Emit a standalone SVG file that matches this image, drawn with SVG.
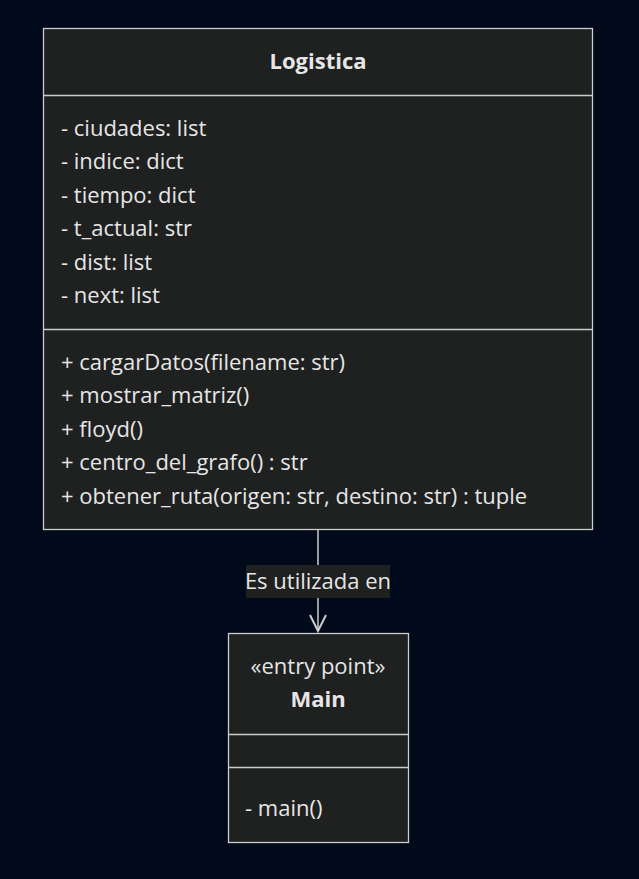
<svg xmlns="http://www.w3.org/2000/svg" width="639" height="879" viewBox="0 0 639 879">
<defs>
<style>
.bg{fill:#000a1a}
.box{fill:#1f2020;stroke:#cccccc;stroke-width:1.3}
.div{stroke:#cccccc;stroke-width:1.3}
text{font-family:"Open Sans","Liberation Sans",Arial,sans-serif;font-size:22px;fill:#e6e6e6}
.t{font-weight:bold;text-anchor:middle}
.c{text-anchor:middle}
.edge{stroke:#cccccc;stroke-width:1.5;fill:none}
.lbl{fill:#1f2020}
</style>
<marker id="arr" viewBox="0 0 20 20" refX="18" refY="10" markerWidth="20" markerHeight="20" markerUnits="userSpaceOnUse" orient="auto">
<path d="M2,2 L18,10 L2,18" fill="none" stroke="#cccccc" stroke-width="2"/>
</marker>
</defs>
<rect class="bg" x="0" y="0" width="639" height="879"/>
<g id="connectors">
<path class="edge" d="M318,530 L318,631" marker-end="url(#arr)"/>
<rect class="lbl" x="246" y="565" width="144" height="33"/>
<text class="c" x="318" y="589">Es utilizada en</text>
</g>
<g id="Logistica">
<rect class="box" x="43.5" y="28.5" width="549" height="501"/>
<line class="div" x1="43.5" y1="95.5" x2="592.5" y2="95.5"/>
<line class="div" x1="43.5" y1="329.5" x2="592.5" y2="329.5"/>
<text class="t" x="318" y="69">Logistica</text>
<text x="61" y="136">- ciudades: list</text>
<text x="61" y="169">- indice: dict</text>
<text x="61" y="203">- tiempo: dict</text>
<text x="61" y="236">- t_actual: str</text>
<text x="61" y="270">- dist: list</text>
<text x="61" y="303">- next: list</text>
<text x="61" y="370">+ cargarDatos(filename: str)</text>
<text x="61" y="403">+ mostrar_matriz()</text>
<text x="61" y="437">+ floyd()</text>
<text x="61" y="470">+ centro_del_grafo() : str</text>
<text x="61" y="504">+ obtener_ruta(origen: str, destino: str) : tuple</text>
</g>
<g id="Main">
<rect class="box" x="228.5" y="633.5" width="180" height="209"/>
<line class="div" x1="228.5" y1="734.5" x2="408.5" y2="734.5"/>
<line class="div" x1="228.5" y1="767.5" x2="408.5" y2="767.5"/>
<text class="c" x="318" y="674">«entry point»</text>
<text class="t" x="318" y="707">Main</text>
<text x="245" y="816">- main()</text>
</g>
</svg>
